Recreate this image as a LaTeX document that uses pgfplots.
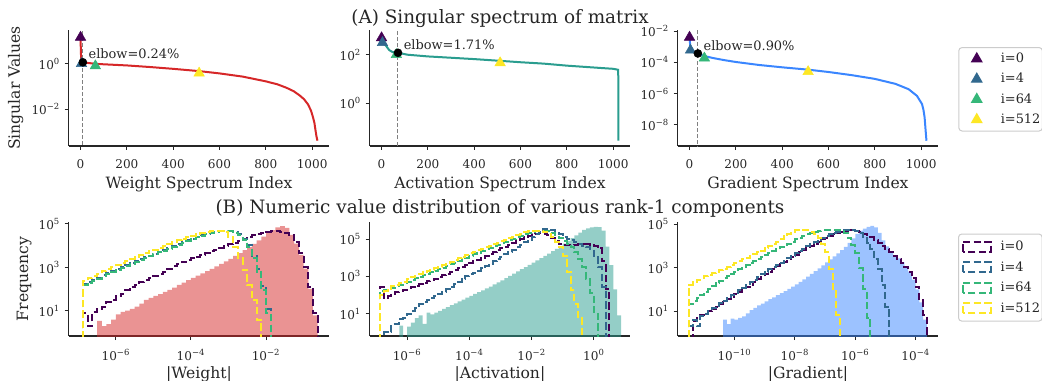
\documentclass[border=0pt]{standalone}
\usepackage{fontspec}
\setmainfont{DejaVu Serif}
\usepackage{pgfplots}
\usepackage{pgfplotstable}
\pgfplotsset{compat=1.18}
\definecolor{ink}{HTML}{262626}
\definecolor{cred}{HTML}{D62728}
\definecolor{cteal}{HTML}{2A9D8F}
\definecolor{cblue}{HTML}{3A86FF}
\definecolor{v0}{HTML}{440154}
\definecolor{v1}{HTML}{31688E}
\definecolor{v2}{HTML}{35B779}
\definecolor{v3}{HTML}{FDE725}
\definecolor{legframe}{HTML}{CCCCCC}
\newcommand{\tenp}[1]{10\textsuperscript{#1}}
\newcommand{\tickfont}{\fontsize{9.05}{10}\selectfont}
\newcommand{\labfont}{\fontsize{11.7}{13}\selectfont}
\newcommand{\titfont}{\fontsize{13.8}{16}\selectfont}
\newcommand{\legfont}{\fontsize{9.7}{11}\selectfont}

\pgfplotsset{every axis/.append style={
    scale only axis, width=195.45pt,
    axis x line*=bottom, axis y line*=left,
    axis line style={-, draw=ink, line width=0.9pt},
    tick align=outside, major tick length=3pt,
    tick style={draw=ink, line width=0.75pt},
    xminorticks=false, yminorticks=false,
    tick label style={font=\tickfont, text=ink},
    xticklabel style={yshift=-3.5pt},
    label style={font=\labfont, text=ink},
    every axis title shift=0pt,
}}
\tikzset{
  trimark/.style={mark=triangle*, mark size=4.5pt, mark options={yshift=-1.5pt}},
  vl/.style={color=gray, line width=0.75pt, dash pattern=on 3pt off 1.6pt},
  dotmark/.style={mark=*, mark size=3pt, black},
  elb/.style={anchor=base west, font=\legfont, text=ink, xshift=0.8pt, yshift=2.5pt},
  dh/.style={line width=1.5pt, dash pattern=on 5.5pt off 2.4pt},
}

\pgfplotstableread{
x f a b c d
1e-7 0.01 0.01 0.01 0.01 0.01
1.334e-7 0.01 7.9 174 158 240
1.778e-7 0.01 2 214 195 316
2.371e-7 0.01 8.9 269 245 407
3.162e-7 3.5 12.6 331 302 513
4.217e-7 2 15.8 437 398 661
5.623e-7 2.5 25 562 513 832
7.499e-7 4 32 708 646 1072
1e-6 7 48 871 794 1349
1.334e-6 9 63 1072 977 1660
1.778e-6 10.5 89 1318 1202 2042
2.371e-6 12.6 126 1622 1479 2570
3.162e-6 15.8 158 1950 1778 3090
4.217e-6 22 214 2399 2188 3715
5.623e-6 32 263 2884 2630 4467
7.499e-6 40 331 3548 3236 5495
1e-5 50 398 4365 3981 6607
1.334e-5 60 501 5370 4898 8128
1.778e-5 76 631 6457 5888 10000
2.371e-5 93 851 7943 7244 12020
3.162e-5 120 1148 9772 8913 14450
4.217e-5 158 1514 11750 10720 17380
5.623e-5 200 1862 14450 13180 20420
7.499e-5 263 2239 17380 15850 24550
1e-4 331 2630 21380 19500 28840
1.334e-4 417 3162 25700 23990 34670
1.778e-4 537 3802 30900 28840 38900
2.371e-4 676 4571 35480 33880 43650
3.162e-4 871 5623 39810 38900 47860
4.217e-4 1122 6607 44670 43650 48980
5.623e-4 1445 7943 47860 46770 47860
7.499e-4 1905 9550 48980 48980 41690
1e-3 2512 11480 47860 46770 26300
1.334e-3 3388 13800 41690 39810 8318
1.778e-3 4571 16600 33110 30200 2630
2.371e-3 6310 19950 21380 19050 759
3.162e-3 8710 25120 10470 8318 158
4.217e-3 12020 29510 3548 2630 32
5.623e-3 17780 34670 891 631 4
7.499e-3 26300 39810 141 89 0.01
1e-2 38020 44670 12.6 7.9 0.01
1.334e-2 52480 46770 0.01 0.01 0.01
1.778e-2 69180 47860 0.01 0.01 0.01
2.371e-2 79430 44670 0.01 0.01 0.01
3.162e-2 66070 39810 0.01 0.01 0.01
4.217e-2 31620 31620 0.01 0.01 0.01
5.623e-2 12590 14130 0.01 0.01 0.01
7.499e-2 3802 4467 0.01 0.01 0.01
0.1 891 1000 0.01 0.01 0.01
0.1334 105 126 0.01 0.01 0.01
0.1778 6.3 7.9 0.01 0.01 0.01
0.2371 0.01 0.01 0.01 0.01 0.01
}\tabW

\pgfplotstableread{
x f a b c d
1e-7 0.01 0.01 0.01 0.01 0.01
1.334e-7 0.01 282 0.01 158 95
1.778e-7 0.01 71 1 178 155
2.371e-7 0.01 89 1 200 214
3.162e-7 0.01 112 2.8 240 302
4.217e-7 0.01 141 2.8 288 355
5.623e-7 2.2 166 5 355 437
7.499e-7 0.01 191 5.6 427 525
1e-6 2 224 10 525 741
1.334e-6 3.2 263 14 631 912
1.778e-6 5.6 316 20 776 1096
2.371e-6 7.9 380 32 933 1349
3.162e-6 2.8 447 40 1122 1660
4.217e-6 11.2 537 52 1380 2042
5.623e-6 8.9 631 66 1660 2291
7.499e-6 11.2 759 89 1995 2754
1e-5 14 912 112 2455 3311
1.334e-5 18 1122 151 2951 4074
1.778e-5 22 1380 200 3631 5012
2.371e-5 28 1698 282 4467 6166
3.162e-5 35 2089 398 5495 7586
4.217e-5 45 2630 525 6761 9333
5.623e-5 56 3236 708 8318 11480
7.499e-5 71 3981 1000 10230 14130
1e-4 89 5012 1259 12590 17380
1.334e-4 112 6310 1585 15490 20890
1.778e-4 141 7943 1995 19050 25120
2.371e-4 178 10000 2630 23440 30200
3.162e-4 224 12590 3548 28180 36310
4.217e-4 282 15850 4677 34670 43650
5.623e-4 363 19950 6310 41690 52480
7.499e-4 468 25120 8318 50120 61660
1e-3 603 31620 11220 60260 75860
1.334e-3 794 39810 15140 72440 91200
1.778e-3 1047 50120 19950 87100 109600
2.371e-3 1380 63100 26920 104700 131800
3.162e-3 1820 79430 36310 125900 162200
4.217e-3 2399 100000 50120 151400 190500
5.623e-3 3162 125900 67610 177800 229100
7.499e-3 4169 151400 91200 208900 257000
1e-2 5495 177800 125900 239900 275400
1.334e-2 7244 199500 177800 263000 288400
1.778e-2 9550 208900 251200 281800 288400
2.371e-2 12590 199500 331100 281800 245500
3.162e-2 16600 158500 354800 263000 186200
4.217e-2 22390 112200 316200 213800 123000
5.623e-2 30200 75860 251200 158500 72440
7.499e-2 41690 56230 177800 112200 36310
0.1 57540 47860 131800 79430 12880
0.1334 79430 45710 100000 56230 1660
0.1778 112200 47860 85110 35480 174
0.2371 158500 50120 70790 19950 34
0.3162 223900 52480 56230 8913 5.4
0.4217 316200 52480 44670 3162 0.01
0.5623 380200 52480 35480 708 0.01
0.7499 426600 50120 28180 126 0.01
1 457100 44670 12590 10 0.01
1.334 446700 31620 3162 0.01 0.01
1.778 281800 6310 251 0.01 0.01
2.371 39810 200 0.01 0.01 0.01
3.162 3981 0.01 0.01 0.01 0.01
4.217 200 0.01 0.01 0.01 0.01
5.623 7.9 0.01 0.01 0.01 0.01
7.499 0.01 0.01 0.01 0.01 0.01
}\tabA

\pgfplotstableread{
x f a b c d
2.371e-12 0.01 0.01 0.01 0.01 0.01
3.162e-12 0.01 0.01 2 20 158
4.217e-12 0.01 3.5 4 28 224
5.623e-12 0.01 5 2 40 282
7.499e-12 0.01 6.3 5.6 56 331
1e-11 0.01 7.9 7.1 79 398
1.334e-11 0.01 10 10 105 468
1.778e-11 0.01 12.6 13.2 141 562
2.371e-11 0.01 15.8 17.8 186 661
3.162e-11 0.01 20 22.4 240 776
4.217e-11 4 26 30 316 891
5.623e-11 2.5 34 40 398 1096
7.499e-11 4.5 44 52 525 1349
1e-10 4 58 68 661 1660
1.334e-10 4.8 74 89 832 1995
1.778e-10 5.6 95 117 1047 2399
2.371e-10 7.9 126 158 1318 2884
3.162e-10 11 166 214 1622 3467
4.217e-10 14 219 282 1995 4169
5.623e-10 18 288 372 2455 5012
7.499e-10 22 380 490 3020 6026
1e-9 28 501 631 3715 7586
1.334e-9 35 661 832 4571 9550
1.778e-9 43 871 1047 5623 12590
2.371e-9 54 1148 1318 6918 15850
3.162e-9 66 1479 1660 8511 20890
4.217e-9 83 1905 2089 10470 28180
5.623e-9 105 2455 2630 12880 36310
7.499e-9 132 3162 3388 15850 44670
1e-8 170 3981 4467 19950 52480
1.334e-8 219 5012 5754 23990 56230
1.778e-8 288 6310 7413 28840 56230
2.371e-8 380 7943 9550 33880 52480
3.162e-8 513 10000 12020 39810 45710
4.217e-8 692 12590 15140 44670 35480
5.623e-8 933 15850 19050 48980 22390
7.499e-8 1259 19950 23440 52480 12590
1e-7 1738 23990 28180 54950 5012
1.334e-7 2399 28840 33880 56230 891
1.778e-7 3311 33880 39810 56230 100
2.371e-7 4571 39810 44670 54950 6.3
3.162e-7 6310 44670 48980 50120 0.01
4.217e-7 9120 50120 52480 39810 0.01
5.623e-7 13800 52480 53700 23990 0.01
7.499e-7 22390 52480 52480 11220 0.01
1e-6 35480 47860 47860 4467 0.01
1.334e-6 50120 41690 39810 1000 0.01
1.778e-6 63100 35480 26300 100 0.01
2.371e-6 75860 30200 14130 5 0.01
3.162e-6 83180 25120 7079 0.01 0.01
4.217e-6 70790 19050 2512 0.01 0.01
5.623e-6 39810 13800 891 0.01 0.01
7.499e-6 17780 10000 158 0.01 0.01
1e-5 9550 7079 15.8 0.01 0.01
1.334e-5 5623 5012 0.01 0.01 0.01
1.778e-5 3802 3548 0.01 0.01 0.01
2.371e-5 2630 2512 0.01 0.01 0.01
3.162e-5 1778 1660 0.01 0.01 0.01
4.217e-5 1122 1047 0.01 0.01 0.01
5.623e-5 631 631 0.01 0.01 0.01
7.499e-5 282 316 0.01 0.01 0.01
1e-4 100 126 0.01 0.01 0.01
1.334e-4 25 31.6 0.01 0.01 0.01
1.778e-4 4 6.3 0.01 0.01 0.01
2.371e-4 0.01 0.01 0.01 0.01 0.01
}\tabG

\begin{document}
\begin{tikzpicture}
\useasboundingbox (0,0) rectangle (781.5pt,-285.75pt);
\clip (0,0) rectangle (781.5pt,-285.75pt);

% ---------- A1 ----------
\begin{axis}[at={(51.525pt,-22.5pt)}, anchor=north west, height=87pt,
  ymode=log, xmin=-51.15, xmax=1074.15,
  xtick={0,200,400,600,800,1000}, xticklabels={0,200,400,600,800,1000},
  ymin=2.45e-4, ymax=30.7, ytick={0.01,1}, yticklabels={\tenp{−2},\tenp{0}},
  xlabel={Weight Spectrum Index}, ylabel={Singular Values},
  xlabel style={at={(axis description cs:0.5,-0.3647)}, anchor=base},
  ylabel style={at={(axis description cs:-0.203,0.5)}, anchor=center}]
\addplot[vl, forget plot] coordinates {(10,1e-6) (10,1e3)};
\addplot[cred, line width=1.5pt, forget plot] coordinates {
(0,18) (1,5) (2,2.5) (3,1.5) (4,1.25) (6,1.2) (10,1.17) (30,1.1) (64,1.0) (100,0.955)
(200,0.851) (300,0.724) (400,0.603) (512,0.479) (600,0.380) (700,0.275) (800,0.170)
(850,0.126) (889,0.089) (920,0.063) (946,0.041) (965,0.028) (982,0.0166) (995,0.0089)
(1004,0.0044) (1010,0.0025) (1015,0.00112) (1019,0.00063) (1023,0.00042)};
\addplot[only marks, trimark, v0] coordinates {(0,18)};
\addplot[only marks, trimark, v1] coordinates {(4,1.25)};
\addplot[only marks, trimark, v2] coordinates {(64,1.0)};
\addplot[only marks, trimark, v3] coordinates {(512,0.479)};
\addplot[only marks, dotmark, forget plot] coordinates {(10,1.17)};
\node[elb] at (axis cs:10,1.17) {elbow=0.24\%};
\end{axis}

% ---------- A2 ----------
\begin{axis}[at={(277.275pt,-22.5pt)}, anchor=north west, height=87pt,
  ymode=log, xmin=-51.15, xmax=1074.15,
  xtick={0,200,400,600,800,1000}, xticklabels={0,200,400,600,800,1000},
  ymin=0.0175, ymax=1040, ytick={1,100}, yticklabels={\tenp{0},\tenp{2}},
  xlabel={Activation Spectrum Index},
  xlabel style={at={(axis description cs:0.5,-0.3647)}, anchor=base},
  title={(A) Singular spectrum of matrix},
  title style={at={(axis description cs:0.5,1)}, anchor=base, yshift=4.5pt, font=\titfont, text=ink}]
\addplot[vl, forget plot] coordinates {(71,1e-3) (71,1e4)};
\addplot[cteal, line width=1.5pt, forget plot] coordinates {
(0,600) (1,540) (2,470) (4,380) (7,330) (10,290) (19,234) (33,155) (47,129) (71,120)
(112,100) (200,85) (300,75) (400,66) (512,56) (600,49) (700,43) (800,35.5) (900,30.5)
(1000,26.3) (1022,24) (1023,0.029)};
\addplot[only marks, trimark, v0] coordinates {(0,600)};
\addplot[only marks, trimark, v1] coordinates {(4,380)};
\addplot[only marks, trimark, v2] coordinates {(64,122)};
\addplot[only marks, trimark, v3] coordinates {(512,56)};
\addplot[only marks, dotmark, forget plot] coordinates {(71,120)};
\node[elb] at (axis cs:71,120) {elbow=1.71\%};
\end{axis}

% ---------- A3 ----------
\begin{axis}[at={(508.275pt,-22.5pt)}, anchor=north west, height=87pt,
  ymode=log, xmin=-51.15, xmax=1074.15,
  xtick={0,200,400,600,800,1000}, xticklabels={0,200,400,600,800,1000},
  ymin=4.37e-10, ymax=1.175e-2, ytick={1e-8,1e-6,1e-4,1e-2},
  yticklabels={\tenp{−8},\tenp{−6},\tenp{−4},\tenp{−2}},
  xlabel={Gradient Spectrum Index},
  xlabel style={at={(axis description cs:0.5,-0.3647)}, anchor=base},
  legend cell align=left,
  legend style={at={(axis description cs:1.0766,0.853)}, anchor=north west,
    draw=legframe, line width=0.75pt, rounded corners=2.5pt, fill=white,
    inner xsep=0pt, inner ysep=0.9pt, row sep=0pt, column sep=0pt,
    font=\legfont, text=ink, nodes={inner xsep=1.5pt, inner ysep=0pt}},
  legend image code/.code={\path[draw=none, fill=none] (0pt,-7.6pt) rectangle (30pt,7.6pt); \draw[#1, sharp corners] plot coordinates {(13.5pt,1.5pt)};}]
\addplot[vl, forget plot] coordinates {(36,1e-12) (36,1)};
\addplot[cblue, line width=1.5pt, forget plot] coordinates {
(0,5.4e-3) (1,3.0e-3) (2,1.6e-3) (4,8e-4) (8,6.3e-4) (15,5e-4) (25,4.2e-4) (36,3.7e-4)
(64,2.51e-4) (100,1.9e-4) (150,1.38e-4) (200,1.05e-4) (300,6.76e-5) (400,4.79e-5)
(512,3.39e-5) (600,2.4e-5) (700,1.51e-5) (800,8.7e-6) (889,4.17e-6) (946,1.9e-6)
(982,7.1e-7) (1004,2.1e-7) (1010,9e-8) (1015,3e-8) (1019,5e-9) (1023,9.5e-10)};
\addplot[only marks, trimark, v0] coordinates {(0,5.4e-3)}; \addlegendentry{i=0}
\addplot[only marks, trimark, v1] coordinates {(4,8e-4)}; \addlegendentry{i=4}
\addplot[only marks, trimark, v2] coordinates {(64,2.51e-4)}; \addlegendentry{i=64}
\addplot[only marks, trimark, v3] coordinates {(512,3.39e-5)}; \addlegendentry{i=512}
\addplot[only marks, dotmark, forget plot] coordinates {(36,3.7e-4)};
\node[elb] at (axis cs:36,3.7e-4) {elbow=0.90\%};
\end{axis}

% ---------- B1 ----------
\begin{axis}[at={(51.525pt,-166.5pt)}, anchor=north west, height=85.5pt,
  xmode=log, ymode=log,
  xmin=5.55e-8, xmax=0.485, ymin=0.708, ymax=123000,
  xtick={1e-6,1e-4,1e-2}, xticklabels={\tenp{−6},\tenp{−4},\tenp{−2}},
  ytick={10,1000,100000}, yticklabels={\tenp{1},\tenp{3},\tenp{5}},
  xlabel={|Weight|}, ylabel={Frequency},
  xlabel style={at={(axis description cs:0.5,-0.3746)}, anchor=base},
  ylabel style={at={(axis description cs:-0.171,0.5)}, anchor=center}]
\addplot[draw=none, fill=cred, fill opacity=0.5, const plot, forget plot] table[x=x,y=f]{\tabW} -- cycle;
\addplot[dh, v0, const plot] table[x=x,y=a]{\tabW};
\addplot[dh, v1, const plot] table[x=x,y=b]{\tabW};
\addplot[dh, v2, const plot] table[x=x,y=c]{\tabW};
\addplot[dh, v3, const plot] table[x=x,y=d]{\tabW};
\end{axis}

% ---------- B2 ----------
\begin{axis}[at={(277.275pt,-166.5pt)}, anchor=north west, height=85.5pt,
  xmode=log, ymode=log,
  xmin=6.31e-8, xmax=14.8, ymin=0.617, ymax=832000,
  xtick={1e-6,1e-4,1e-2,1}, xticklabels={\tenp{−6},\tenp{−4},\tenp{−2},\tenp{0}},
  ytick={10,1000,100000}, yticklabels={\tenp{1},\tenp{3},\tenp{5}},
  xlabel={|Activation|},
  xlabel style={at={(axis description cs:0.5,-0.3746)}, anchor=base},
  title={(B) Numeric value distribution of various rank-1 components},
  title style={at={(axis description cs:0.5,1)}, anchor=base, yshift=6.4pt, font=\titfont, text=ink}]
\addplot[draw=none, fill=cteal, fill opacity=0.5, const plot, forget plot] table[x=x,y=f]{\tabA} -- cycle;
\addplot[dh, v0, const plot] table[x=x,y=a]{\tabA};
\addplot[dh, v1, const plot] table[x=x,y=b]{\tabA};
\addplot[dh, v2, const plot] table[x=x,y=c]{\tabA};
\addplot[dh, v3, const plot] table[x=x,y=d]{\tabA};
\end{axis}

% ---------- B3 ----------
\begin{axis}[at={(508.275pt,-166.5pt)}, anchor=north west, height=85.5pt,
  xmode=log, ymode=log,
  xmin=1.32e-12, xmax=5.62e-4, ymin=0.708, ymax=125900,
  xtick={1e-10,1e-8,1e-6,1e-4}, xticklabels={\tenp{−10},\tenp{−8},\tenp{−6},\tenp{−4}},
  ytick={10,1000,100000}, yticklabels={\tenp{1},\tenp{3},\tenp{5}},
  xlabel={|Gradient|},
  xlabel style={at={(axis description cs:0.5,-0.3746)}, anchor=base},
  legend cell align=left,
  legend style={at={(axis description cs:1.0756,0.899)}, anchor=north west,
    draw=legframe, line width=0.75pt, rounded corners=2.5pt, fill=white,
    inner xsep=0pt, inner ysep=1.9pt, row sep=0pt, column sep=0pt,
    font=\legfont, text=ink, nodes={inner xsep=1.5pt, inner ysep=0pt}},
  legend image code/.code={\path[draw=none, fill=none] (0pt,-7.69pt) rectangle (30pt,7.69pt); \draw[#1, sharp corners, fill=none] (3pt,-3.75pt) rectangle (24pt,3.75pt);}]
\addplot[draw=none, fill=cblue, fill opacity=0.5, const plot, forget plot] table[x=x,y=f]{\tabG} -- cycle;
\addplot[dh, v0, const plot] table[x=x,y=a]{\tabG}; \addlegendentry{i=0}
\addplot[dh, v1, const plot] table[x=x,y=b]{\tabG}; \addlegendentry{i=4}
\addplot[dh, v2, const plot] table[x=x,y=c]{\tabG}; \addlegendentry{i=64}
\addplot[dh, v3, const plot] table[x=x,y=d]{\tabG}; \addlegendentry{i=512}
\end{axis}
\end{tikzpicture}
\end{document}
